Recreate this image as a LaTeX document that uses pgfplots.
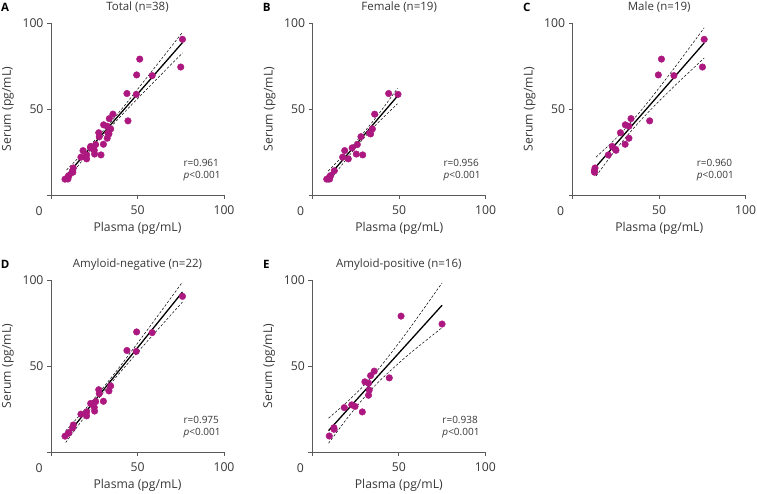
\documentclass[border=0pt]{standalone}
\usepackage{pgfplots}
\pgfplotsset{compat=1.18}
\usepackage{pgfplotstable}
\usepackage{fontspec}
\setmainfont{Open Sans}
\definecolor{dotc}{RGB}{172,24,128}
\definecolor{axc}{RGB}{90,90,90}
\definecolor{txc}{RGB}{55,55,55}

\pgfplotstableread{
x y
76.0 90.5
49.5 69.8
58.5 69.4
27.6 36.2
30.3 29.5
22.9 28.2
25.0 26.0
20.6 23.3
12.9 15.7
}\mneg
\pgfplotstableread{
x y
51.3 79.0
75.0 74.4
33.7 44.4
44.5 43.1
30.4 40.8
32.5 40.0
32.5 33.0
24.7 26.5
12.6 13.2
12.5 14.1
}\mpos
\pgfplotstableread{
x y
43.9 59.0
49.3 58.5
34.5 38.4
33.5 35.5
27.9 33.9
25.8 29.3
25.2 23.8
20.6 21.0
17.3 22.0
12.5 14.1
10.4 11.3
9.9 10.8
8.1 9.2
}\fneg
\pgfplotstableread{
x y
35.8 47.0
32.9 36.0
22.8 27.4
18.5 25.8
28.9 23.3
9.8 9.3
}\fpos

\newcommand{\lab}{\fontsize{12.2}{14}\selectfont}
\newcommand{\ttl}{\fontsize{11.5}{13}\selectfont}
\pgfplotsset{
 panel/.style={
  scale only axis, width=173pt, height=172pt,
  xmin=0,xmax=100,ymin=0,ymax=100,
  axis x line*=bottom, axis y line*=left,
  xtick={0,50,100}, ytick={0,50,100},
  xticklabels={,50,100}, yticklabels={,50,100},
  tick align=outside, major tick length=4pt,
  axis line style={draw=axc, line width=0.8pt},
  every tick/.style={draw=axc, line width=0.8pt},
  tick label style={font=\lab, text=txc},
  xticklabel style={yshift=-3.5pt},
  /pgf/number format/assume math mode=true,
  xlabel={Plasma (pg/mL)}, ylabel={Serum (pg/mL)},
  label style={font=\lab, text=txc},
  xlabel style={at={(axis description cs:0.5,-0.195)}, anchor=center},
  ylabel style={at={(axis description cs:-0.249,0.5)}, anchor=center},
  title style={at={(axis description cs:0.5,1.058)}, anchor=center, font=\ttl, text=txc},
  clip=false,
 },
 dots/.style={only marks, mark=*, mark size=3.3pt, mark options={draw=dotc, fill=dotc}},
 reg/.style={black, line width=1.3pt},
 ci/.style={black, line width=0.5pt, dash pattern=on 2.5pt off 1.8pt, smooth},
}
\newcommand{\panelextras}[3]{%
 \node[font=\lab, text=txc] at ([xshift=-12pt,yshift=-16pt]axis cs:0,0) {0};
 \node[font=\ttl\bfseries, text=black] at (axis description cs:-0.265,1.093) {#1};
 \node[font=\fontsize{10}{12}\selectfont, text=txc, anchor=west, align=left] at (axis cs:#2,18.8) {r=#3};
 \node[font=\fontsize{10}{12}\selectfont, text=txc, anchor=west] at (axis cs:#2,11.2) {\textit{p}<0.001};
}

\begin{document}
\begin{tikzpicture}
\useasboundingbox (0,0) rectangle (757pt,494pt);
% A
\begin{axis}[panel, at={(51pt,299pt)}, anchor=south west, title={Total (n=38)}]
\addplot[dots] table {\mneg};
\addplot[dots] table {\mpos};
\addplot[dots] table {\fneg};
\addplot[dots] table {\fpos};
\addplot[reg] coordinates {(9,11.55)(76,88.6)};
\addplot[ci] coordinates {(9,14.55)(20,26.0)(30,37.1)(40,48.9)(55,67.75)(76,94.6)};
\addplot[ci] coordinates {(9,8.55)(20,22.4)(30,34.3)(40,45.5)(55,61.15)(76,82.6)};
\panelextras{A}{74.6}{0.961}
\end{axis}
% B
\begin{axis}[panel, at={(312.7pt,299pt)}, anchor=south west, title={Female (n=19)}]
\addplot[dots] table {\fneg};
\addplot[dots] table {\fpos};
\addplot[reg] coordinates {(9,10.6)(49,57.5)};
\addplot[ci] coordinates {(9,13.9)(20,25.5)(28,34.5)(38,46.9)(49,62.0)};
\addplot[ci] coordinates {(9,7.3)(20,21.5)(28,31.3)(38,42.3)(49,53.0)};
\panelextras{B}{73.6}{0.956}
\end{axis}
% C
\begin{axis}[panel, at={(572.7pt,299pt)}, anchor=south west, title={Male (n=19)}]
\addplot[dots] table {\mneg};
\addplot[dots] table {\mpos};
\addplot[reg] coordinates {(13.5,16.5)(76,88.4)};
\addplot[ci] coordinates {(13.5,22.0)(25,32.9)(35,43.8)(45,55.9)(60,75.5)(76,97.2)};
\addplot[ci] coordinates {(13.5,11.0)(25,26.5)(35,38.6)(45,49.5)(60,64.5)(76,79.6)};
\panelextras{C}{69.7}{0.960}
\end{axis}
% D
\begin{axis}[panel, at={(51pt,42pt)}, anchor=south west, title={Amyloid-negative (n=22)}]
\addplot[dots] table {\mneg};
\addplot[dots] table {\fneg};
\addplot[reg] coordinates {(8.5,8.9)(76,93.0)};
\addplot[ci] coordinates {(8.5,12.3)(20,25.2)(30,37.2)(40,49.9)(55,70.0)(76,98.8)};
\addplot[ci] coordinates {(8.5,5.5)(20,21.2)(30,34.2)(40,46.3)(55,63.6)(76,87.2)};
\panelextras{D}{74.6}{0.975}
\end{axis}
% E
\begin{axis}[panel, at={(312.3pt,42pt)}, anchor=south west, title={Amyloid-positive (n=16)}]
\addplot[dots] table {\mpos};
\addplot[dots] table {\fpos};
\addplot[reg] coordinates {(9.4,12.4)(75,85.3)};
\addplot[ci] coordinates {(9.4,19.7)(20,29.0)(30,38.9)(40,50.4)(55,70.1)(75,98.3)};
\addplot[ci] coordinates {(9.4,5.1)(20,19.4)(30,31.7)(40,42.4)(55,56.1)(75,72.3)};
\panelextras{E}{73.2}{0.938}
\end{axis}
\end{tikzpicture}
\end{document}
